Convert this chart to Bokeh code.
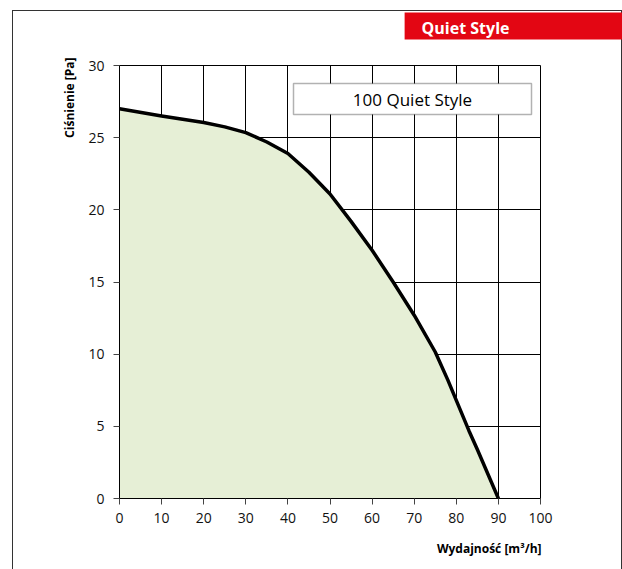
from bokeh.plotting import figure
from bokeh.models import BoxAnnotation, Label, FixedTicker, Range1d, Title
from bokeh.embed import file_html
from bokeh.resources import INLINE

# data
flow = [0, 10, 20, 25, 30, 35, 40, 45, 50, 55, 60, 65, 70, 75, 78, 80, 83, 85, 90]
pressure = [27.0, 26.5, 26.05, 25.75, 25.35, 24.7, 23.9, 22.6, 21.1, 19.2, 17.2, 15.0,
            12.7, 10.15, 8.2, 6.8, 4.7, 3.4, 0.0]
x_ticks = [0, 10, 20, 30, 40, 50, 60, 70, 80, 90, 100]
y_ticks = [0, 5, 10, 15, 20, 25, 30]
series_name = "100 Quiet Style"
title_text = "Quiet Style"
x_label = "Wydajność [m³/h]"
y_label = "Ciśnienie [Pa]"

FONT = "Open Sans"

p = figure(width=610, height=559, output_backend="svg", toolbar_location=None,
           x_range=Range1d(0, 100), y_range=Range1d(0, 30),
           min_border_left=107, min_border_right=82, min_border_top=54, min_border_bottom=70)
p.margin = (10, 0, 0, 12)
p.styles = {"box-shadow": "inset 1px 1px 0 0 #333333, inset -1px 0 0 0 #333333"}
p.background_fill_color = "white"
p.border_fill_color = None
p.outline_line_color = "black"
p.outline_line_width = 1
p.title.text = ""

p.varea(x=flow, y1=[0] * len(flow), y2=pressure, fill_color="#e6efd6")
p.line(x=flow, y=pressure, line_color="black", line_width=3.5, line_join="round")

for ax in (p.xaxis, p.yaxis):
    ax.axis_line_color = "black"
    ax.major_tick_line_color = "#444444"
    ax.major_tick_out = 6
    ax.major_tick_in = 0
    ax.minor_tick_line_color = None
    ax.major_label_text_font = FONT
    ax.major_label_text_font_size = "14px"
    ax.major_label_text_color = "#111111"
p.xaxis.ticker = FixedTicker(ticks=x_ticks)
p.yaxis.ticker = FixedTicker(ticks=y_ticks)
p.xaxis.major_label_standoff = 8
p.yaxis.major_label_standoff = 9

p.xgrid.ticker = FixedTicker(ticks=x_ticks)
p.ygrid.ticker = FixedTicker(ticks=y_ticks)
p.grid.grid_line_color = "black"
p.grid.grid_line_alpha = 1
p.grid.grid_line_width = 1

# axis labels as side titles
p.add_layout(Title(text=x_label, align="right", offset=-1, standoff=25,
                   text_font=FONT, text_font_size="12px", text_font_style="bold",
                   text_color="black"), "below")
p.add_layout(Title(text=y_label, align="right", offset=-8, standoff=15,
                   text_font=FONT, text_font_size="12px", text_font_style="bold",
                   text_color="black"), "left")

# spacer next to the frame, then the red title band above it
p.add_layout(Title(text="\u00a0", text_font_size="10px", standoff=13, text_color="white"), "above")
p.add_layout(Title(text=title_text, align="right", offset=-82, standoff=0,
                   text_font=FONT, text_font_size="16px", text_font_style="bold",
                   text_color="white", background_fill_color="#e30613",
                   padding={"left": 17, "right": 113, "top": 4, "bottom": 1}), "above")

# series box
p.add_layout(BoxAnnotation(left=174, right=412, top=415, bottom=384,
                           left_units="screen", right_units="screen",
                           top_units="screen", bottom_units="screen",
                           fill_color="white", fill_alpha=1, line_color="black", line_width=1.5))
p.add_layout(Label(x=293, y=399.5, x_units="screen", y_units="screen", text=series_name,
                   text_font=FONT, text_font_size="17px", text_color="black",
                   text_baseline="middle", text_align="center"))

open("out.html", "w").write(file_html(p, INLINE))
